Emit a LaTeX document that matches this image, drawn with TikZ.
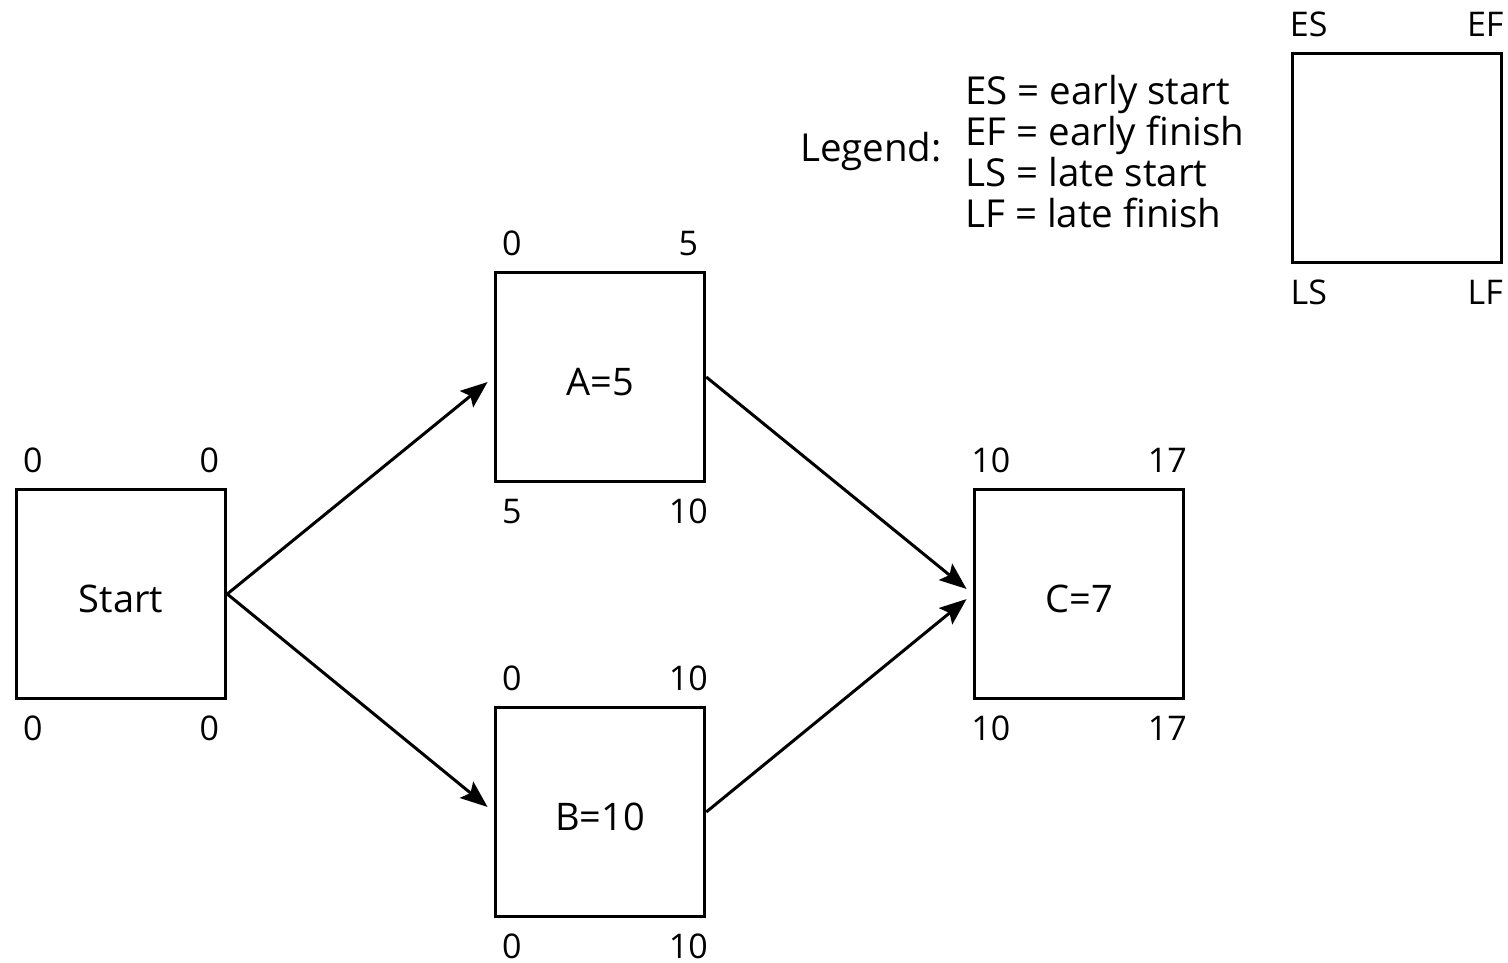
\documentclass[tikz,border=0pt]{standalone}
\usepackage{fontspec}
\setmainfont{Open Sans}
\usetikzlibrary{arrows.meta}
\newcommand\boxlab[1]{\raisebox{-18pt}[0pt][0pt]{#1}}
\begin{document}
\begin{tikzpicture}[x=1pt,y=-1pt,
  box/.style={draw, line width=3.5pt, minimum width=209pt, minimum height=209pt, inner sep=0pt, font=\fontsize{38}{44}\selectfont},
  num/.style={font=\fontsize{34}{40}\selectfont, inner sep=0pt, anchor=base},
  legtext/.style={font=\fontsize{38.5}{41}\selectfont, inner sep=0pt},
  arr/.style={line width=3pt, -{Stealth[length=27pt,width=21pt,inset=5pt]}, shorten >=8pt}]
\useasboundingbox (0,0) rectangle (1508,963);
\fill[white] (0,0) rectangle (1508,963);
% boxes
\node[box] (s) at (121,594) {\boxlab{Start}};
\node[box] (a) at (600,377) {\boxlab{A=5}};
\node[box] (b) at (600,812) {\boxlab{B=10}};
\node[box] (c) at (1079,594) {\boxlab{C=7}};
\node[box] (lg) at (1397,158) {};
% corner labels
\foreach \n/\es/\ef/\ls/\lf in {s/0/0/0/0, a/0/5/5/10, b/0/10/0/10, c/10/17/10/17, lg/ES/EF/LS/LF}{
  \node[num] (\n es) at ([shift={(18,-15.5)}]\n.north west) {\es};
  \node[num] (\n ef) at ([shift={(-18,-15.5)}]\n.north east) {\ef};
  \node[num] (\n ls) at ([shift={(18,40.5)}]\n.south west) {\ls};
  \node[num] (\n lf) at ([shift={(-18,40.5)}]\n.south east) {\lf};
}
% legend text
\node[legtext, anchor=base east] (legend) at (942,162) {Legend:};
\node[legtext, anchor=north west, align=left] (defs) at (965,75)
  {ES = early start\\EF = early finish\\LS = late start\\LF = late finish};
% arrows
\draw[arr] (s.east) -- (a.west);
\draw[arr] (s.east) -- (b.west);
\draw[arr] (a.east) -- (c.west);
\draw[arr] (b.east) -- (c.west);
\end{tikzpicture}
\end{document}
